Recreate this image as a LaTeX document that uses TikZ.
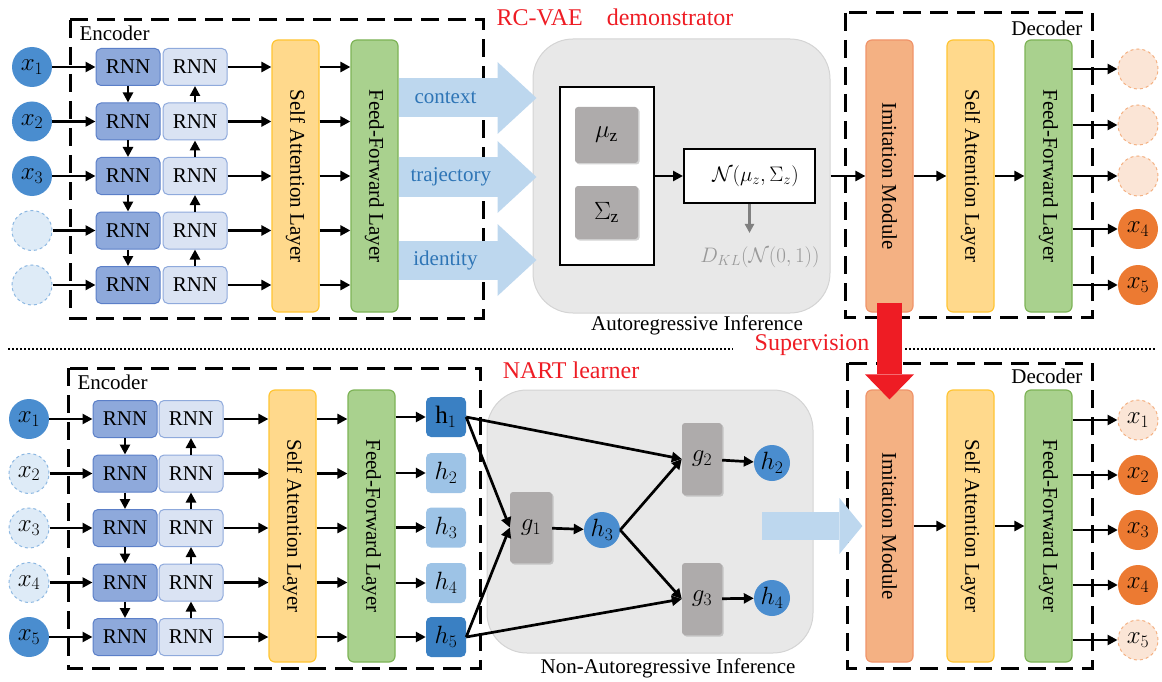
\documentclass[tikz,border=0pt]{standalone}
\usepackage{fix-cm}
\usepackage{fontspec}
\setmainfont{Liberation Serif}
\usepackage{graphicx}
\usetikzlibrary{arrows.meta}
\usetikzlibrary{shadows}
\definecolor{inblue}{HTML}{4A8DCF}
\definecolor{inpale}{HTML}{DEEBF7}
\definecolor{inline}{HTML}{8DB8E2}
\definecolor{rnndark}{HTML}{8EA9DB}
\definecolor{rnndarkline}{HTML}{5B7FC8}
\definecolor{rnnlight}{HTML}{DAE3F3}
\definecolor{rnnlightline}{HTML}{8FAADC}
\definecolor{safill}{HTML}{FFD98C}
\definecolor{saline}{HTML}{FFC533}
\definecolor{fffill}{HTML}{A9D18E}
\definecolor{ffline}{HTML}{7DB356}
\definecolor{imfill}{HTML}{F4B183}
\definecolor{imline}{HTML}{F0946A}
\definecolor{outorange}{HTML}{EC7A32}
\definecolor{outpale}{HTML}{FBE5D6}
\definecolor{outline}{HTML}{F4B183}
\definecolor{arrowblue}{HTML}{BDD7EE}
\definecolor{textblue}{HTML}{2E75B6}
\definecolor{infgray}{HTML}{E8E8E8}
\definecolor{infline}{HTML}{D4D4D4}
\definecolor{boxgray}{HTML}{AEABAB}
\definecolor{hdark}{HTML}{3A80C3}
\definecolor{hlight}{HTML}{9DC3E6}
\definecolor{supred}{HTML}{EE1C24}
\def\figFont{\fontsize{21}{25}\selectfont}
\def\redFont{\fontsize{24}{28}\selectfont}
\def\mathFont{\fontsize{25}{30}\selectfont}
\def\lineThick{2.7pt}
\def\circSize{40pt}
\def\rnnWidth{64pt}
\def\rnnHeight{37pt}
\def\layerWidth{47pt}
\def\layerHeight{272pt}
\tikzset{conn/.style={black,line width=\lineThick,-{Triangle[length=10pt,width=10pt]}}}
\tikzset{grayconn/.style={draw=gray,line width=2.2pt,-{Triangle[length=9pt,width=9pt]}}}
\tikzset{encbox/.style={black,line width=3pt,dash pattern=on 18pt off 9pt}}
\tikzset{sepline/.style={black,line width=2.2pt,dash pattern=on 2pt off 2pt}}
\tikzset{bigarrow/.style={draw=arrowblue,line width=39pt,-{Triangle[length=39pt,width=72pt,line width=0pt]}}}
\tikzset{smallarrow/.style={draw=arrowblue,line width=28pt,-{Triangle[length=23pt,width=56pt,line width=0pt]}}}
\tikzset{redarrow/.style={draw=supred,line width=25pt,-{Triangle[length=25pt,width=49pt,line width=0pt]}}}
\tikzset{incirc/.style={circle,fill=inblue,minimum size=\circSize,inner sep=0,font=\mathFont}}
\tikzset{inghost/.style={circle,fill=inpale,draw=inline,dashed,line width=1pt,minimum size=\circSize,inner sep=0,font=\mathFont}}
\tikzset{outcirc/.style={circle,fill=outorange,minimum size=\circSize,inner sep=0,font=\mathFont}}
\tikzset{outghost/.style={circle,fill=outpale,draw=outline,dashed,line width=1pt,minimum size=\circSize,inner sep=0,font=\mathFont}}
\tikzset{rnnd/.style={rectangle,rounded corners=5pt,fill=rnndark,draw=rnndarkline,line width=1pt,minimum width=\rnnWidth,minimum height=\rnnHeight,inner sep=0}}
\tikzset{rnnl/.style={rectangle,rounded corners=5pt,fill=rnnlight,draw=rnnlightline,line width=1pt,minimum width=\rnnWidth,minimum height=\rnnHeight,inner sep=0}}
\tikzset{layer/.style={rectangle,rounded corners=6pt,line width=1.2pt,minimum width=\layerWidth,minimum height=\layerHeight,inner sep=0}}
\tikzset{salayer/.style={layer,fill=safill,draw=saline}}
\tikzset{fflayer/.style={layer,fill=fffill,draw=ffline}}
\tikzset{imlayer/.style={layer,fill=imfill,draw=imline}}
\tikzset{infbox/.style={rectangle,rounded corners=40pt,fill=infgray,draw=infline,line width=1pt,inner sep=0}}
\tikzset{whitebox/.style={rectangle,fill=white,draw=black,line width=2pt,inner sep=0}}
\tikzset{graybox/.style={rectangle,rounded corners=3pt,fill=boxgray,inner sep=0,font=\mathFont,drop shadow={shadow xshift=1.5pt,shadow yshift=-1.5pt,opacity=0.35}}}
\tikzset{hbox/.style={rectangle,rounded corners=5pt,minimum size=40pt,inner sep=0,font=\mathFont}}
\tikzset{hcirc/.style={circle,fill=inblue,minimum size=36pt,inner sep=0,font=\mathFont}}
\tikzset{redlbl/.style={text=supred,font=\redFont}}

\begin{document}
\begin{tikzpicture}[x=1pt,y=-1pt,font=\figFont]
\useasboundingbox (0,0) rectangle (1162,682);
% demonstrator: encoder
\draw[encbox] (70,20) rectangle (483,318);
\node[anchor=west] (tenc) at (76,33) {Encoder};
\foreach \i/\y in {1/67,2/121.5,3/176,4/230.5,5/285}{\node[rnnd] (td\i) at (128,\y) {RNN};\node[rnnl] (tl\i) at (195,\y) {RNN};}
\foreach \i/\y in {1/67,2/121.5,3/176}{\node[incirc] (ti\i) at (32,\y) {$x_\i$};}
\foreach \i/\y in {4/230.5,5/285}{\node[inghost] (ti\i) at (32,\y) {};}
\node[salayer] (tsa) at (295.5,176) {\rotatebox{-90}{Self Attention Layer}};
\node[fflayer] (tff) at (374.5,176) {\rotatebox{-90}{Feed-Forward Layer}};
\foreach \i in {1,...,5}{\draw[conn] (ti\i) -- (td\i);\draw[conn] (tl\i) -- (tsa.west |- tl\i);\draw[conn] (tsa.east |- tl\i) -- (tff.west |- tl\i);}
\foreach \i/\j in {1/2,2/3,3/4,4/5}{\draw[conn] (td\i) -- (td\j);\draw[conn] (tl\j) -- (tl\i);}
% demonstrator: autoregressive inference
\node[infbox,minimum width=297pt,minimum height=274pt] (tar) at (681.5,176) {};
\node (tarlbl) at (697,325) {Autoregressive Inference};
\node[whitebox,minimum width=94pt,minimum height=177pt] (tlat) at (607,176) {};
\node[graybox,minimum width=63pt,minimum height=56pt] (tmu) at (606.5,135) {$\mu_{\mathrm{z}}$};
\node[graybox,minimum width=63pt,minimum height=53pt] (tsig) at (606.5,212.5) {$\Sigma_{\mathrm{z}}$};
\node[whitebox,minimum width=131pt,minimum height=53pt] (tnorm) at (749.5,176) {\hspace{12pt}$\mathcal{N}(\mu_z,\Sigma_z)$};
\node[text=gray!80] (tkl) at (760,257) {$D_{KL}(\mathcal{N}(0,1))$};
\draw[conn] (tlat) -- (tnorm);
\draw[grayconn,shorten >=10pt] (tnorm.south) -- (tnorm.south |- tkl.north);
\foreach \y/\t/\p in {98/context/0.35,177/trajectory/0.39,260/identity/0.35}{\draw[bigarrow,shorten >=-4pt] (tff.east |- 0,\y) -- (tar.west |- 0,\y) node[pos=\p,text=textblue]{\t};}
% demonstrator: decoder
\draw[encbox] (845,13) rectangle (1092,317);
\node[anchor=east] (tdec) at (1086,28) {Decoder};
\node[imlayer] (tim) at (889.5,176) {\rotatebox{-90}{Imitation Module}};
\node[salayer] (tdsa) at (970.5,176) {\rotatebox{-90}{Self Attention Layer}};
\node[fflayer] (tdff) at (1048.5,176) {\rotatebox{-90}{Feed-Forward Layer}};
\draw[conn] (tar) -- (tim);\draw[conn] (tim) -- (tdsa);\draw[conn] (tdsa) -- (tdff);
\foreach \i/\y in {1/69,2/125,3/176}{\node[outghost] (to\i) at (1138,\y) {};}
\foreach \i/\y in {4/229,5/285}{\node[outcirc] (to\i) at (1138,\y) {$x_\i$};}
\foreach \i in {1,...,5}{\draw[conn] (tdff.east |- to\i) -- (to\i);}
\node[redlbl] (ttitle) at (615,17) {RC-VAE\quad demonstrator};
% separator
\coordinate (sep1) at (8,349);\coordinate (sep2) at (733,349);\coordinate (sep3) at (905,349);\coordinate (sep4) at (1155,349);
\draw[sepline] (sep1) -- (sep2) (sep3) -- (sep4);
\node[redlbl] (suplbl) at (812,345) {Supervision};
% learner: encoder
\draw[encbox] (68,368) rectangle (480,668);
\node[anchor=west] (benc) at (74,382) {Encoder};
\foreach \i/\y in {1/419,2/473.5,3/528,4/582.5,5/637}{\node[rnnd] (bd\i) at (125,\y) {RNN};\node[rnnl] (bl\i) at (191,\y) {RNN};}
\foreach \i/\y in {1/419,5/637}{\node[incirc] (bi\i) at (29,\y) {$x_\i$};}
\foreach \i/\y in {2/473.5,3/528,4/582.5}{\node[inghost] (bi\i) at (29,\y) {$x_\i$};}
\node[salayer] (bsa) at (292.5,526) {\rotatebox{-90}{Self Attention Layer}};
\node[fflayer] (bff) at (371.5,526) {\rotatebox{-90}{Feed-Forward Layer}};
\node[hbox,fill=hdark] (bh1) at (446,417) {$\mathrm{h}_1$};
\foreach \i/\y in {2/473,3/527.5,4/583}{\node[hbox,fill=hlight] (bh\i) at (446,\y) {$h_\i$};}
\node[hbox,fill=hdark] (bh5) at (446,637) {$h_5$};
\foreach \i in {1,...,5}{\draw[conn] (bi\i) -- (bd\i);\draw[conn] (bl\i) -- (bsa.west |- bl\i);\draw[conn] (bsa.east |- bl\i) -- (bff.west |- bl\i);\draw[conn] (bff.east |- bh\i) -- (bh\i);}
\foreach \i/\j in {1/2,2/3,3/4,4/5}{\draw[conn] (bd\i) -- (bd\j);\draw[conn] (bl\j) -- (bl\i);}
% learner: non-autoregressive inference
\node[infbox,minimum width=326pt,minimum height=263pt] (bnar) at (650,521.5) {};
\node (bnarlbl) at (668,668) {Non-Autoregressive Inference};
\node[graybox,minimum width=42pt,minimum height=71pt] (bg1) at (531,527.5) {$g_1$};
\node[graybox,minimum width=40pt,minimum height=72pt] (bg2) at (702,459) {$g_2$};
\node[graybox,minimum width=40pt,minimum height=72pt] (bg3) at (702,599) {$g_3$};
\node[hcirc] (bc3) at (602,530) {$h_3$};
\node[hcirc] (bc2) at (772,463) {$h_2$};
\node[hcirc] (bc4) at (772,598) {$h_4$};
\draw[conn] (bh1.east) -- (bg2.west);\draw[conn] (bh1.east) -- (bg1.west);
\draw[conn] (bh5.east) -- (bg1.west);\draw[conn] (bh5.east) -- (bg3.west);
\draw[conn] (bg1) -- (bc3);\draw[conn] (bc3.east) -- (bg2.west);\draw[conn] (bc3.east) -- (bg3.west);
\draw[conn] (bg2) -- (bc2);\draw[conn] (bg3) -- (bc4);
\node[redlbl] (btitle) at (571,370) {NART learner};
% learner: decoder
\draw[encbox] (847,363) rectangle (1092,668);
\node[anchor=east] (bdec) at (1086,376) {Decoder};
\node[imlayer] (bim) at (889.5,526) {\rotatebox{-90}{Imitation Module}};
\node[salayer] (bdsa) at (970.5,526) {\rotatebox{-90}{Self Attention Layer}};
\node[fflayer] (bdff) at (1048.5,526) {\rotatebox{-90}{Feed-Forward Layer}};
\coordinate (bsrc) at (762,526);
\draw[smallarrow,shorten >=3pt] (bsrc) -- (bim.west);
\draw[conn] (bim) -- (bdsa);\draw[conn] (bdsa) -- (bdff);
\foreach \i/\y in {1/420,5/640}{\node[outghost] (bo\i) at (1138,\y) {$x_\i$};}
\foreach \i/\y in {2/475,3/530,4/585}{\node[outcirc] (bo\i) at (1138,\y) {$x_\i$};}
\foreach \i in {1,...,5}{\draw[conn] (bdff.east |- bo\i) -- (bo\i);}
% supervision
\draw[redarrow,shorten <=-10pt,shorten >=-10pt] (tim.south) -- (bim.north);
\end{tikzpicture}
\end{document}
